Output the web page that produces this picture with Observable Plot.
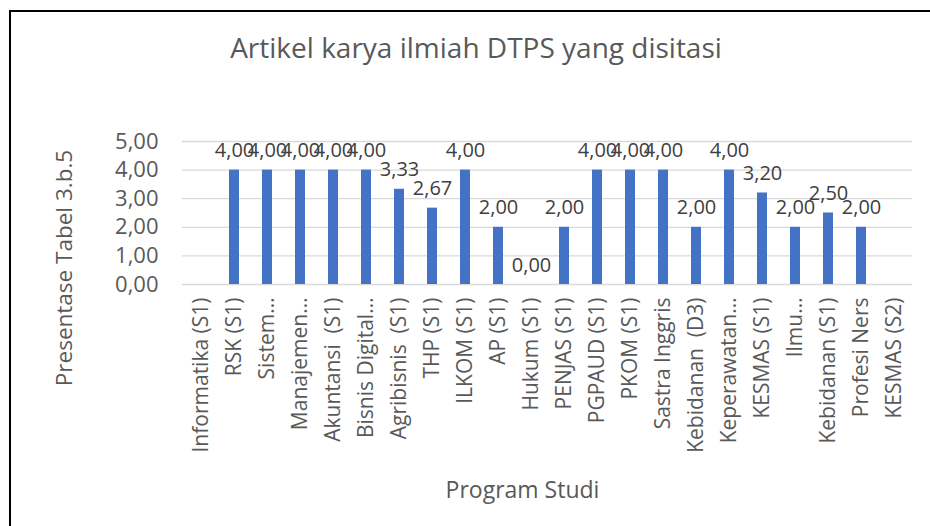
<!DOCTYPE html>
<html><head><meta charset="utf-8">
<script src="https://cdn.jsdelivr.net/npm/d3@7"></script>
<script src="https://cdn.jsdelivr.net/npm/@observablehq/plot@0.6"></script>
<style>
body{margin:0;background:#fff;font-family:"Open Sans",sans-serif;}
#wrap{position:relative;width:930px;height:526px;overflow:hidden;background:#fff;}
#frame{position:absolute;left:9px;top:10px;right:-10px;bottom:-10px;border-top:2px solid #000;border-left:2px solid #000;pointer-events:none;}
#title{position:absolute;top:29px;left:476px;transform:translateX(-50%);white-space:nowrap;font-size:28px;line-height:36px;color:#595959;}
#chart{position:absolute;top:100px;left:0;}
</style></head>
<body>
<div id="wrap">
  <div id="frame"></div>
  <div id="title">Artikel karya ilmiah DTPS yang disitasi</div>
  <div id="chart"></div>
</div>
<script>
const categories = ["Informatika (S1)","RSK (S1)","Sistem…","Manajemen…","Akuntansi  (S1)","Bisnis Digital…","Agribisnis  (S1)","THP (S1)","ILKOM (S1)","AP (S1)","Hukum (S1)","PENJAS (S1)","PGPAUD (S1)","PKOM (S1)","Sastra Inggris","Kebidanan  (D3)","Keperawatan…","KESMAS (S1)","Ilmu…","Kebidanan (S1)","Profesi Ners","KESMAS (S2)"];
const values = [null,4.00,4.00,4.00,4.00,4.00,3.33,2.67,4.00,2.00,0.00,2.00,4.00,4.00,4.00,2.00,4.00,3.20,2.00,2.50,2.00,null];
const yTicks = [0,1,2,3,4,5];
const yTitle = "Presentase Tabel 3.b.5";
const xTitle = "Program Studi";

const table = categories.map((c,i)=>({cat:c, val:values[i]})).filter(d=>d.val!=null);
const fmt = v => v.toFixed(2).replace(".", ",");

const chart = Plot.plot({
  width: 930,
  height: 426,
  marginTop: 41,
  marginBottom: 242,
  marginLeft: 182,
  marginRight: 18,
  style: {fontFamily: "'Open Sans', sans-serif", background: "transparent", overflow: "visible"},
  x: {domain: categories, paddingInner: 0.7, paddingOuter: 0.35, label: null},
  y: {domain: [0,5], label: null},
  marks: [
    Plot.gridY(yTicks, {stroke: "#d9d9d9", strokeOpacity: 1, strokeWidth: 1.3}),
    Plot.axisY(yTicks, {tickSize: 0, tickPadding: 24, tickFormat: fmt, fontSize: 22, fill: "#595959", label: null}),
    Plot.axisX({tickSize: 0, tickPadding: 13, tickRotate: -90, fontSize: 21, fill: "#595959", label: null}),
    Plot.barY(table, {x: "cat", y: "val", fill: "#4472C4"}),
    Plot.text(table, {x: "cat", y: "val", text: d => fmt(d.val), lineAnchor: "bottom", dy: -13, fontSize: 20, fill: "#404040"}),
    Plot.text([yTitle], {frameAnchor: "left", text: d => d, rotate: -90, textAnchor: "middle", lineAnchor: "middle", dx: -118, dy: 55, fontSize: 22.5, fill: "#595959"}),
    Plot.text([xTitle], {frameAnchor: "bottom", text: d => d, textAnchor: "middle", lineAnchor: "middle", dx: -25, dy: 206, fontSize: 23, fill: "#595959"})
  ]
});
document.getElementById("chart").appendChild(chart);
</script>
</body></html>
